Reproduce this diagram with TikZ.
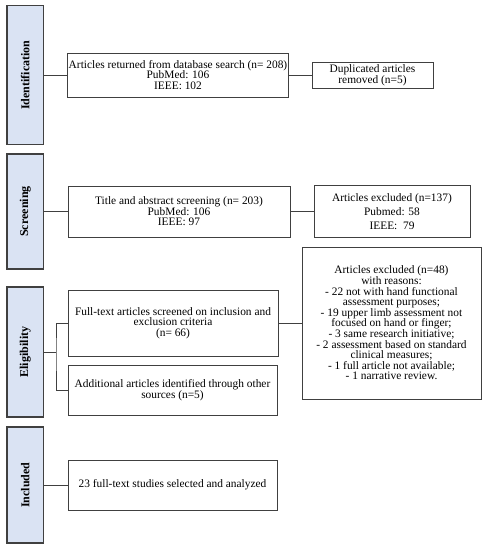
\documentclass[tikz,border=0pt]{standalone}
\usepackage{fontspec}
\setmainfont{Liberation Serif}
\definecolor{stagefill}{HTML}{DAE3F3}
\definecolor{edgegray}{HTML}{404040}
\tikzset{
  stage/.style={draw=edgegray, line width=1.3pt, fill=stagefill, rotate=90,
    minimum height=36.5pt, font=\fontsize{12}{12}\selectfont\bfseries},
  box/.style={draw=edgegray, line width=1pt, align=center, inner sep=1pt,
    font=\fontsize{11.4}{10.6}\selectfont},
  link/.style={draw=edgegray, line width=1pt}
}
\begin{document}
\begin{tikzpicture}[x=1pt, y=-1pt]
\useasboundingbox (0,0) rectangle (492,550);
\node[stage, minimum width=139pt] (id) at (25.25,75) {Identification};
\node[stage, minimum width=115pt] (scr) at (25.25,211.5) {Screening};
\node[stage, minimum width=130pt] (elig) at (25.25,352) {Eligibility};
\node[stage, minimum width=116pt] (inc) at (25.25,485) {Included};
\node[box, minimum width=220pt, minimum height=44pt] (ret) at (178,75)
  {Articles returned from database search (n= 208)\\PubMed: 106\\IEEE: 102};
\node[box, minimum width=121pt, minimum height=26pt] (dup) at (372.5,75)
  {Duplicated articles\\removed (n=5)};
\node[box, minimum width=222pt, minimum height=51pt] (tas) at (179,211.5)
  {Title and abstract screening (n= 203)\\PubMed: 106\\IEEE: 97};
\node[box, minimum width=156pt, minimum height=52pt] (ex1) at (392,211.5)
  {Articles excluded (n=137)\\[3.5pt]Pubmed: 58\\[3.5pt]IEEE:~ 79};
\node[box, minimum width=179pt, minimum height=152pt] (ex2) at (391.5,323)
  {Articles excluded (n=48)\\with reasons:\\- 22 not with hand functional\\assessment purposes;\\- 19 upper limb assessment not\\focused on hand or finger;\\- 3 same research initiative;\\- 2 assessment based on standard\\clinical measures;\\- 1 full article not available;\\- 1 narrative review.};
\node[box, minimum width=210pt, minimum height=66pt] (ft) at (173,323)
  {Full-text articles screened on inclusion and\\exclusion criteria\\(n= 66)};
\node[box, minimum width=209pt, minimum height=50pt] (add) at (172.5,390)
  {Additional articles identified through other\\sources (n=5)};
\node[box, minimum width=209pt, minimum height=50pt] (sel) at (172.5,485)
  {23 full-text studies selected and analyzed};
\coordinate (br) at (56,352);
\draw[link] (id) -- (ret);
\draw[link] (ret) -- (dup);
\draw[link] (scr) -- (tas);
\draw[link] (tas) -- (ex1);
\draw[link] (ft) -- (ex2);
\draw[link] (elig) -- (br);
\draw[link] (ft) -| (br) |- (add);
\draw[link] (inc) -- (sel);
\end{tikzpicture}
\end{document}
